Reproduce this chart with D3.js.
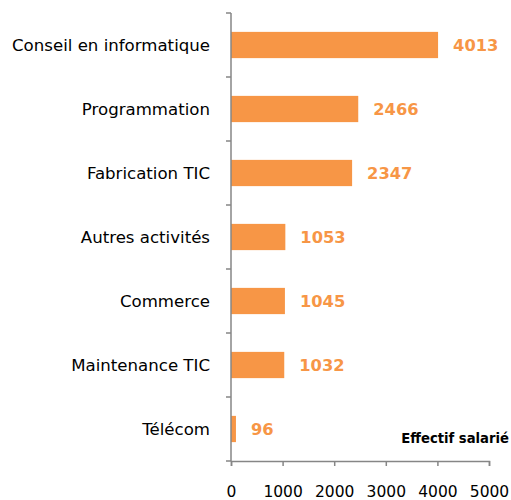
<!DOCTYPE html>
<html><head><meta charset="utf-8">
<script src="https://cdn.jsdelivr.net/npm/d3@7"></script>
<style>body{margin:0;background:#fff;}svg{display:block;font-family:"DejaVu Sans",sans-serif;}</style>
</head><body>
<svg id="c" width="511" height="500"></svg>
<script>
const categories = ["Conseil en informatique","Programmation","Fabrication TIC","Autres activités","Commerce","Maintenance TIC","Télécom"];
const values = [4013,2466,2347,1053,1045,1032,96];
const xTicks = [0,1000,2000,3000,4000,5000];
const axisTitle = "Effectif salarié";

const svg = d3.select("#c");
const x = d3.scaleLinear().domain([0,5000]).range([231,489]);
const y = d3.scaleBand().domain(categories).range([13,461]).paddingInner(0.59).paddingOuter(0.295);
const grey = "#868686", orange = "#F79646";

svg.selectAll("rect.bar").data(values).join("rect")
  .attr("x", x(0)).attr("y",(d,i)=>y(categories[i]))
  .attr("width", d=>x(d)-x(0)).attr("height", y.bandwidth()).attr("fill", orange);

svg.selectAll("text.val").data(values).join("text").attr("class","val")
  .attr("x", d=>x(d)+15).attr("y",(d,i)=>y(categories[i])+y.bandwidth()/2)
  .attr("dy","0.36em").attr("fill",orange).attr("font-weight","bold").attr("font-size",16.3)
  .text(d=>d);

svg.selectAll("text.cat").data(categories).join("text").attr("class","cat")
  .attr("x",210).attr("y",d=>y(d)+y.bandwidth()/2).attr("dy","0.36em")
  .attr("text-anchor","end").attr("font-size",16.6).attr("fill","#000").text(d=>d);

const yBounds = d3.range(categories.length+1).map(i=>13+i*(448/categories.length));
svg.append("line").attr("x1",231).attr("x2",231).attr("y1",13).attr("y2",461).attr("stroke",grey).attr("stroke-width",1.5);
svg.selectAll("line.yt").data(yBounds).join("line")
  .attr("x1",226).attr("x2",231).attr("y1",d=>d).attr("y2",d=>d).attr("stroke",grey).attr("stroke-width",1.5);

const xa = svg.append("g").attr("transform","translate(0,461)")
  .call(d3.axisBottom(x).tickValues(xTicks).tickSize(5).tickPadding(20).tickFormat(d3.format("d")));
xa.select(".domain").attr("stroke",grey).attr("stroke-width",1.5);
xa.selectAll(".tick line").attr("stroke",grey).attr("stroke-width",1.5);
xa.selectAll(".tick text").attr("font-size",15.5).attr("fill","#000").attr("font-family","'DejaVu Sans',sans-serif");

svg.append("text").attr("x",509).attr("y",443).attr("text-anchor","end")
  .attr("font-weight","bold").attr("font-size",13.2).attr("fill","#000").text(axisTitle);
</script>
</body></html>
